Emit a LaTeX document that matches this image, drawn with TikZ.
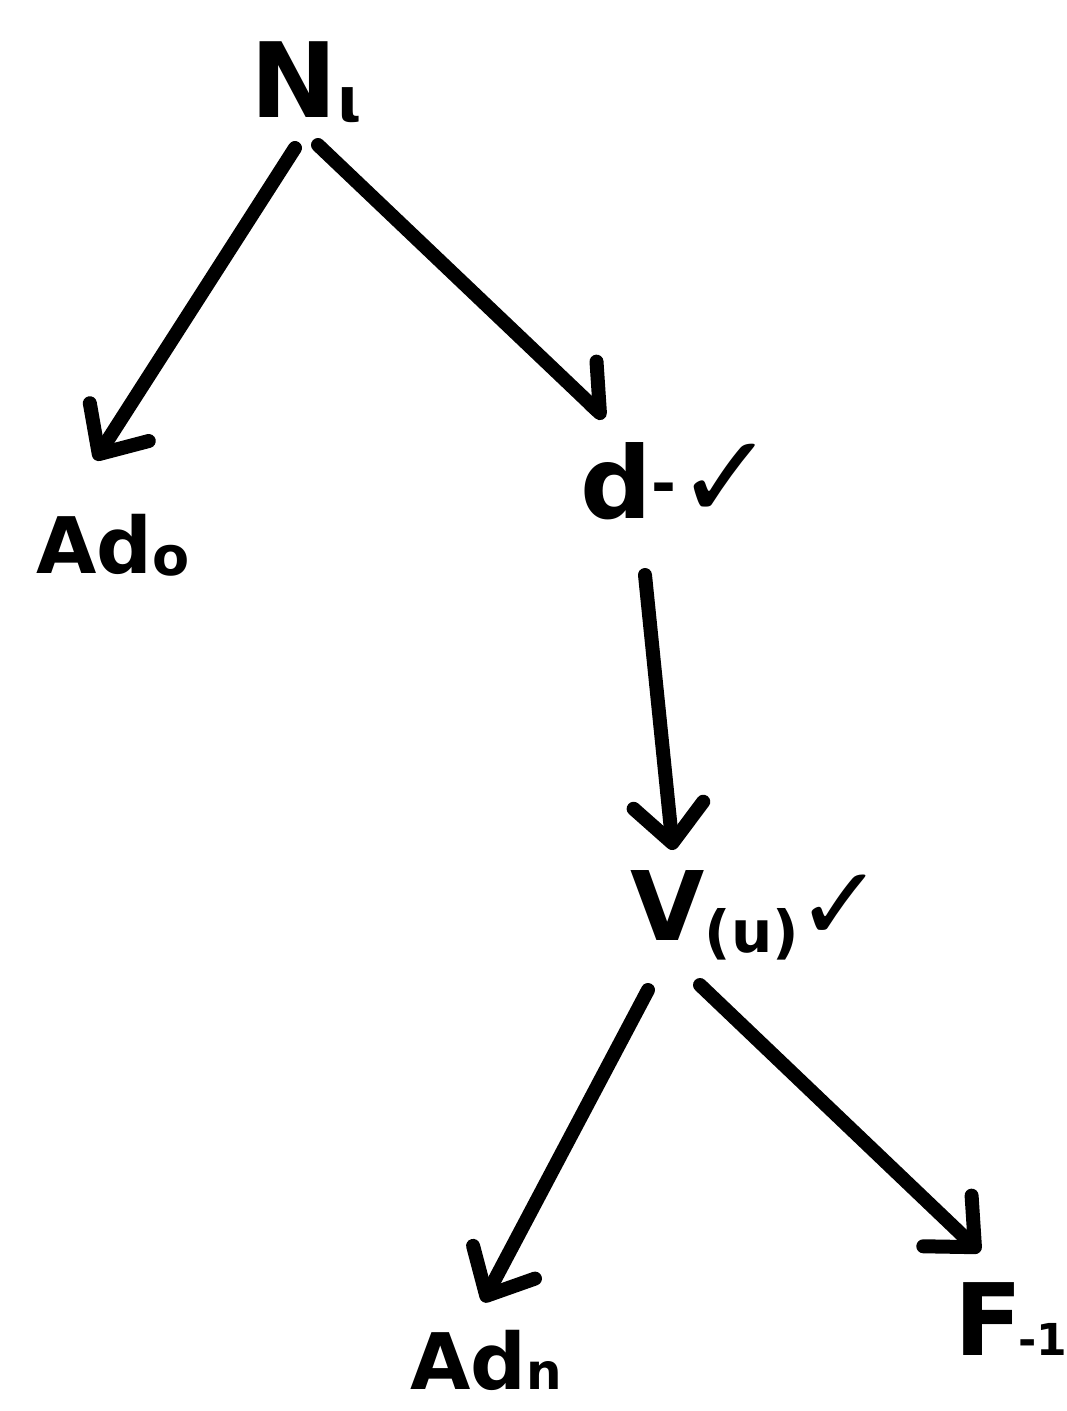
\documentclass[tikz,border=0pt]{standalone}
\usepackage{fontspec}
\setmainfont{DejaVu Sans}
\usetikzlibrary{arrows.meta}
\newcommand{\lsub}[3]{\raisebox{#1}{\fontsize{#2}{#2}\selectfont #3}}
\begin{document}
\begin{tikzpicture}[x=1pt,y=-1pt,
  lab/.style={font=\bfseries\fontsize{#1}{#1}\selectfont, inner sep=0pt, anchor=base west},
  arr/.style={line width=14pt, line cap=round, line join=round,
    -{Straight Barb[length=38pt,width=70pt,line width=14pt,round]}},
  harr/.style={line width=14pt, line cap=round, line join=round,
    -{Straight Barb[length=38pt,width=70pt,line width=14pt,round,left]}}]
\fill[white] (0,0) rectangle (1066,1411);
\useasboundingbox (0,0) rectangle (1066,1411);
% labels
\node[lab=104] (N) at (250,117) {N\lsub{-4pt}{62}{ι}};
\node[lab=78] (Ad0) at (36,573) {Ad\lsub{-2pt}{54}{o}};
\node[lab=100] (dn) at (580,518) {d\lsub{14pt}{60}{-}\lsub{0pt}{118}{✓}};
\node[lab=96] (V) at (630,940) {V\lsub{-12pt}{58}{(u)}\hspace{-2pt}\lsub{0pt}{104}{✓}};
\node[lab=78] (Adn) at (410,1389) {Ad\lsub{0pt}{50}{n}};
\node[lab=100] (F) at (954,1355) {F\hspace{-4pt}\lsub{0pt}{44}{-1}};
% connectors
\draw[arr]  ([shift={(45,31)}]N.base west)  -- ([shift={(59,-113)}]Ad0.base west);
\draw[harr] ([shift={(68,28)}]N.base west)  -- ([shift={(25,-100)}]dn.base west);
\draw[arr]  ([shift={(65,57)}]dn.base west) -- ([shift={(43,-90)}]V.base west);
\draw[arr]  ([shift={(18,50)}]V.base west)  -- ([shift={(73,-87)}]Adn.base west);
\draw[arr]  ([shift={(70,45)}]V.base west)  -- ([shift={(26,-103)}]F.base west);
\end{tikzpicture}
\end{document}
